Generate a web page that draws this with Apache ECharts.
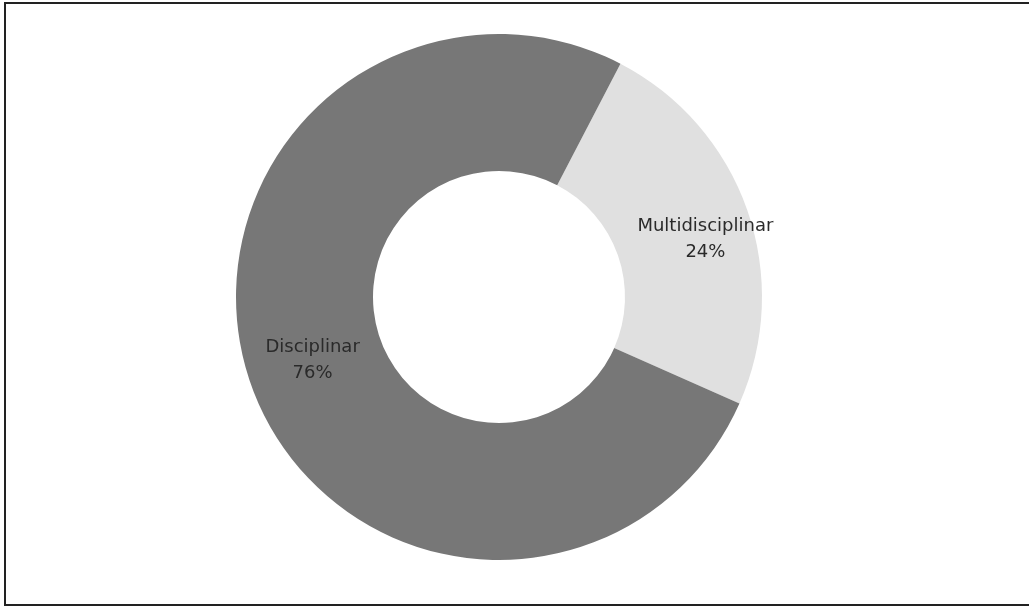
<!DOCTYPE html>
<html>
<head>
<meta charset="utf-8">
<script src="https://cdn.jsdelivr.net/npm/echarts@6/dist/echarts.min.js"></script>
<style>
  html, body { margin: 0; padding: 0; background: #fff; }
  #chart { width: 1029px; height: 607px; }
</style>
</head>
<body>
<div id="chart"></div>
<script>
var categories = ['Multidisciplinar', 'Disciplinar'];
var values = [24, 76];
var colors = ['#e0e0e0', '#777777'];
var labelOffsets = [[20, 8], [0, -2]];

var chart = echarts.init(document.getElementById('chart'));
chart.setOption({
  backgroundColor: '#fff',
  animation: false,
  graphic: [{
    type: 'rect',
    shape: { x: 5, y: 3, width: 1030, height: 602 },
    style: { fill: 'none', stroke: '#222', lineWidth: 2 }
  }],
  series: [{
    type: 'pie',
    center: [499, 297],
    radius: [126, 263],
    startAngle: 62.5,
    clockwise: true,
    label: {
      show: true,
      position: 'inside',
      formatter: '{b}\n{d}%',
      color: '#2a2a2a',
      fontFamily: 'DejaVu Sans',
      fontSize: 18,
      lineHeight: 26
    },
    labelLine: { show: false },
    emphasis: { disabled: true },
    itemStyle: { borderWidth: 0 },
    data: categories.map(function (c, i) {
      return {
        name: c,
        value: values[i],
        itemStyle: { color: colors[i] },
        label: { offset: labelOffsets[i] }
      };
    })
  }]
});
</script>
</body>
</html>
